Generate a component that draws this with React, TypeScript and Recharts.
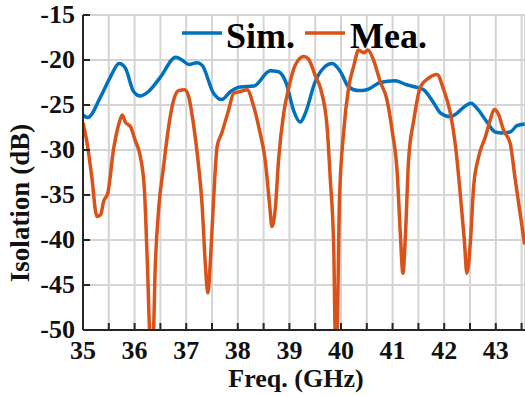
import React from "react";
import { LineChart, Line, XAxis, YAxis, CartesianGrid } from "recharts";

const simFreq = [35, 35.09, 35.34, 35.53, 35.7, 35.82, 35.98, 36.11, 36.27, 36.5, 36.8, 36.92, 37.05, 37.21, 37.31, 37.53, 37.69, 37.86, 38.05, 38.31, 38.63, 38.79, 38.94, 39.08, 39.21, 39.31, 39.5, 39.66, 39.83, 39.99, 40.15, 40.34, 40.5, 40.76, 41.05, 41.25, 41.44, 41.6, 41.8, 41.93, 42.12, 42.25, 42.41, 42.52, 42.64, 42.83, 42.99, 43.12, 43.28, 43.41, 43.56];
const simDb = [-26.1, -26.4, -24.1, -21.9, -20.4, -20.9, -23.5, -24.0, -23.5, -21.9, -19.7, -20.0, -20.5, -20.3, -20.6, -23.7, -24.4, -23.5, -23.0, -22.9, -21.2, -21.3, -22.6, -25.6, -26.9, -25.9, -22.4, -20.9, -20.4, -21.3, -23.0, -23.4, -23.3, -22.5, -22.3, -22.7, -23.0, -23.3, -24.8, -25.9, -26.3, -25.9, -25.1, -24.8, -25.4, -26.9, -28.0, -28.1, -28.0, -27.3, -27.1];

const meaFreq = [35, 35.09, 35.17, 35.27, 35.34, 35.4, 35.48, 35.59, 35.69, 35.76, 35.82, 35.92, 36.01, 36.11, 36.19, 36.25, 36.3, 36.36, 36.4, 36.47, 36.56, 36.66, 36.76, 36.85, 36.97, 37.05, 37.13, 37.22, 37.31, 37.37, 37.42, 37.47, 37.53, 37.6, 37.69, 37.82, 37.92, 38.05, 38.18, 38.31, 38.42, 38.53, 38.62, 38.66, 38.73, 38.79, 38.89, 38.99, 39.11, 39.28, 39.37, 39.5, 39.61, 39.73, 39.79, 39.86, 39.89, 39.92, 39.97, 40.05, 40.15, 40.25, 40.34, 40.44, 40.52, 40.63, 40.76, 40.89, 40.99, 41.09, 41.15, 41.2, 41.25, 41.31, 41.41, 41.54, 41.7, 41.86, 41.99, 42.12, 42.22, 42.31, 42.39, 42.44, 42.51, 42.57, 42.67, 42.8, 42.89, 42.97, 43.05, 43.15, 43.28, 43.37, 43.47, 43.56];
const meaDb = [-27.0, -29.6, -33.0, -37.4, -37.2, -35.7, -34.8, -30.0, -27.2, -26.1, -26.9, -27.4, -28.9, -30.7, -34.4, -43.0, -50.5, -50.5, -43.0, -36.3, -31.9, -27.4, -24.4, -23.4, -23.3, -24.1, -26.7, -30.7, -36.3, -42.6, -45.9, -42.2, -35.6, -29.6, -28.1, -25.6, -23.7, -23.5, -23.3, -25.2, -27.8, -31.1, -36.3, -38.5, -36.3, -31.1, -25.9, -23.0, -20.6, -19.6, -19.9, -21.7, -23.3, -27.4, -33.0, -41.1, -50.5, -50.5, -35.6, -28.1, -23.0, -20.6, -18.9, -19.2, -18.9, -20.0, -22.4, -24.4, -27.8, -32.6, -39.3, -43.7, -39.3, -31.1, -26.7, -23.0, -22.0, -21.6, -23.3, -25.9, -29.6, -34.8, -40.0, -43.7, -40.0, -34.1, -30.7, -28.5, -26.7, -25.5, -26.0, -27.8, -29.3, -33.0, -37.0, -40.5];

const xTicks = [35, 35.5, 36, 36.5, 37, 37.5, 38, 38.5, 39, 39.5, 40, 40.5, 41, 41.5, 42, 42.5, 43, 43.5];
const yTicks = [-50, -45, -40, -35, -30, -25, -20, -15];

const simData = simFreq.map((f, i) => ({ f, db: simDb[i] }));
const meaData = meaFreq.map((f, i) => ({ f, db: meaDb[i] }));

const FONT = '"Liberation Serif", "Times New Roman", serif';
const AXIS = "#262626";
const BLUE = "#0072BD";
const ORANGE = "#D95319";

function BottomTick(props: any) {
  const { x, y, payload } = props;
  const v = payload.value;
  return (
    <g>
      <line x1={x} x2={x} y1={y} y2={y - 7} stroke={AXIS} strokeWidth={2} />
      {Number.isInteger(v) && (
        <text x={x} y={y + 29} textAnchor="middle" fontFamily={FONT} fontWeight="bold" fontSize={26} fill="#111">
          {v}
        </text>
      )}
    </g>
  );
}

function TopTick(props: any) {
  const { x, y } = props;
  return <line x1={x} x2={x} y1={y} y2={y + 7} stroke={AXIS} strokeWidth={2} />;
}

function LeftTick(props: any) {
  const { x, y, payload } = props;
  return (
    <g>
      <line x1={x} x2={x + 7} y1={y} y2={y} stroke={AXIS} strokeWidth={2} />
      <text x={x - 8} y={y + 8} textAnchor="end" fontFamily={FONT} fontWeight="bold" fontSize={26} fill="#111">
        {payload.value}
      </text>
    </g>
  );
}

function RightTick(props: any) {
  const { x, y } = props;
  return <line x1={x} x2={x - 7} y1={y} y2={y} stroke={AXIS} strokeWidth={2} />;
}

// legend sits inside the plot, top centre
function LegendBox() {
  return (
    <svg
      width={260}
      height={44}
      style={{ position: "absolute", left: 182, top: 15, overflow: "visible", pointerEvents: "none" }}
    >
      <line x1={0} x2={40} y1={18} y2={18} stroke={BLUE} strokeWidth={3.5} />
      <text x={44} y={33} fontFamily={FONT} fontWeight="bold" fontSize={36} fill="#000">Sim.</text>
      <line x1={123} x2={163} y1={18} y2={18} stroke={ORANGE} strokeWidth={3.5} />
      <text x={168} y={33} fontFamily={FONT} fontWeight="bold" fontSize={36} fill="#000">Mea.</text>
    </svg>
  );
}

export default function App() {
  return (
    <div style={{ position: "absolute", left: 0, top: 0, width: 525, height: 396, background: "#fff" }}>
      <LineChart width={525} height={396} margin={{ top: 15, right: 0, bottom: 0, left: 0 }}>
        <CartesianGrid xAxisId="b" yAxisId="l" stroke="#d4d4d4" strokeWidth={2} />
        <XAxis
          xAxisId="b"
          type="number"
          dataKey="f"
          domain={[35, 43.566]}
          ticks={xTicks}
          allowDataOverflow
          height={66}
          tickSize={0}
          tickMargin={0}
          tickLine={false}
          interval={0}
          axisLine={{ stroke: AXIS, strokeWidth: 2 }}
          tick={<BottomTick />}
          label={{
            content: () => (
              <text x={296} y={387} textAnchor="middle" fontFamily={FONT} fontWeight="bold" fontSize={26} fill="#111">
                Freq. (GHz)
              </text>
            ),
          }}
        />
        <XAxis
          xAxisId="t"
          orientation="top"
          type="number"
          dataKey="f"
          domain={[35, 43.566]}
          ticks={xTicks}
          allowDataOverflow
          height={0}
          tickSize={0}
          tickMargin={0}
          tickLine={false}
          interval={0}
          axisLine={{ stroke: AXIS, strokeWidth: 2 }}
          tick={<TopTick />}
        />
        <YAxis
          yAxisId="l"
          type="number"
          domain={[-50, -15]}
          ticks={yTicks}
          allowDataOverflow
          width={83}
          tickSize={0}
          tickMargin={0}
          tickLine={false}
          interval={0}
          axisLine={{ stroke: AXIS, strokeWidth: 2 }}
          tick={<LeftTick />}
          label={{
            content: () => (
              <text
                x={29}
                y={203}
                transform="rotate(-90 29 203)"
                textAnchor="middle"
                fontFamily={FONT}
                fontWeight="bold"
                fontSize={27}
                fill="#111"
              >
                Isolation (dB)
              </text>
            ),
          }}
        />
        <YAxis
          yAxisId="r"
          orientation="right"
          type="number"
          domain={[-50, -15]}
          ticks={yTicks}
          allowDataOverflow
          width={0}
          tickSize={0}
          tickMargin={0}
          tickLine={false}
          interval={0}
          axisLine={{ stroke: AXIS, strokeWidth: 2 }}
          tick={<RightTick />}
        />
        <Line
          xAxisId="b"
          yAxisId="l"
          data={simData}
          dataKey="db"
          type="monotone"
          stroke={BLUE}
          strokeWidth={3.5}
          dot={false}
          isAnimationActive={false}
          name="Sim."
        />
        <Line
          xAxisId="b"
          yAxisId="l"
          data={meaData}
          dataKey="db"
          type="monotone"
          stroke={ORANGE}
          strokeWidth={3.5}
          dot={false}
          isAnimationActive={false}
          name="Mea."
        />
      </LineChart>
      <LegendBox />
    </div>
  );
}
